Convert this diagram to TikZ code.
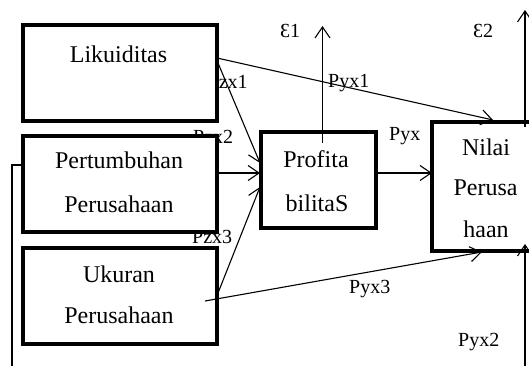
\documentclass[tikz,border=0pt]{standalone}
\usepackage{fontspec}
\setmainfont{Liberation Serif}
\usetikzlibrary{arrows.meta,calc}
\begin{document}
\begin{tikzpicture}[x=1pt,y=-1pt,
  box/.style={draw,line width=3.4pt,fill=white,inner sep=0pt,outer sep=0pt},
  txt/.style={font=\fontsize{24}{28}\selectfont,anchor=base,inner sep=0pt},
  lab/.style={font=\fontsize{20}{24}\selectfont,anchor=base west,inner sep=0pt},
  conn/.style={line width=1.1pt},
  arr/.style={conn,-{Straight Barb[length=11pt,width=15pt,line width=1.1pt]}}
]
\useasboundingbox (0,0) rectangle (529,366);

% labels partly hidden behind the boxes
\node[lab] (l1) at (207.5,89) {Pzx1};
\node[lab] (l2) at (193,143) {Pzx2};
\node[lab] (l3) at (192,243.5) {Pzx3};

% boxes
\node[box,minimum width=194pt,minimum height=96pt] (lik) at (120,73) {};
\node[box,minimum width=194pt,minimum height=96pt] (pert) at (120,184) {};
\node[box,minimum width=194pt,minimum height=96pt] (uk) at (120,296) {};
\node[box,minimum width=115pt,minimum height=96pt] (prof) at (318.5,180) {};
\node[box,minimum width=103pt,minimum height=129pt] (nilai) at (483.5,186.5) {};

% box texts
\node[txt] (t1) at (118.5,63) {Likuiditas};
\node[txt] (t2a) at (119,168) {Pertumbuhan};
\node[txt] (t2b) at (119,212) {Perusahaan};
\node[txt] (t3a) at (119,282) {Ukuran};
\node[txt] (t3b) at (119,323) {Perusahaan};
\node[txt] (t4a) at (316,167) {Profita};
\node[txt] (t4b) at (317,211) {bilitaS};
\node[txt] (t5a) at (486,155) {Nilai};
\node[txt] (t5b) at (485.5,195) {Perusa};
\node[txt] (t5c) at (486,237) {haan};

% other labels
\node[lab] (py1) at (328,88) {Pyx1};
\node[lab] (py) at (389,140) {Pyx};
\node[lab] (py3) at (349,293) {Pyx3};
\node[lab] (py2) at (458,346) {Pyx2};
\node[lab] (e1) at (280,38) {Ɛ1};
\node[lab] (e2) at (473,38) {Ɛ2};

% free ends
\coordinate (e1top) at (322.5,26);
\coordinate (e2top) at (525,10);
\coordinate (bot) at (525,366);
\coordinate (lc1) at (12,165);
\coordinate (lc2) at (12,366);

% connectors
\draw[arr] ($(lik.north east)+(0,33)$) -- ($(nilai.north west)+(61,-2)$);
\draw[arr] ($(lik.north east)+(1,38)$) -- ($(prof.west)+(-1,-17)$);
\draw[arr] ($(pert.east)+(0,-11)$) -- ($(prof.west)+(-1,-7)$);
\draw[arr] ($(uk.east)+(1,-3)$) -- ($(prof.west)+(-1,7)$);
\draw[arr] ($(uk.east)+(-12,5)$) -- ($(nilai.south west)+(50,1)$);
\draw[arr] ($(prof.east)+(0,-7)$) -- ($(nilai.west)+(0,-13.5)$);
\draw[arr] ($(prof.north)+(4,11)$) -- (e1top);
\draw[arr] ($(nilai.north west)+(93,5)$) -- (e2top);
\draw[arr] (bot) -- ($(nilai.south west)+(93,-7)$);
\draw[conn] ($(pert.west)+(0,-19)$) -- (lc1) -- (lc2);
\end{tikzpicture}
\end{document}
